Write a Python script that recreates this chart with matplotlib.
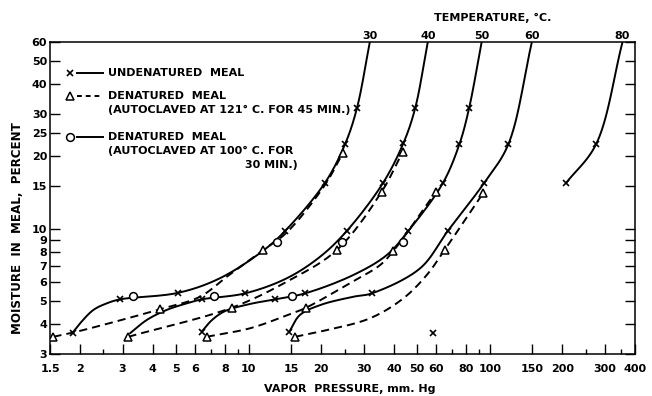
import numpy as np
import matplotlib
matplotlib.use("Agg")
import matplotlib.pyplot as plt
from matplotlib.ticker import FixedLocator, FixedFormatter, NullFormatter

# ---------------------------------------------------------------- data
# Temperatures of the isotherms and the saturated vapour pressure of water
# at each (mm Hg); every isotherm runs up to 60 % moisture at that pressure.
TEMPS_C = [30, 40, 50, 60, 80]
P_SAT = [31.8, 55.3, 92.5, 149.4, 355.1]
M_TOP = 60.0

# Undenatured meal: vapour pressure (mm Hg) / moisture (%) along each isotherm.
# MARK = 1 for an observed point (drawn with "x"), 0 for a point on the drawn curve.
UND_30_P = [1.86, 2.00, 2.27, 2.58, 2.93, 5.11, 7.60, 11.5, 14.15, 20.7, 25.1, 28.1]
UND_30_M = [3.68, 4.03, 4.58, 4.88, 5.07, 5.40, 6.21, 8.10, 9.77, 15.5, 22.5, 31.7]
UND_30_MARK = [1, 0, 0, 0, 1, 1, 0, 0, 1, 1, 1, 1]

UND_40_P = [3.22, 3.78, 4.57, 5.54, 6.39, 9.66, 14.4, 19.8, 25.5, 36.0, 43.8, 49.0]
UND_40_M = [3.66, 4.16, 4.58, 4.88, 5.07, 5.37, 6.21, 7.64, 9.77, 15.45, 22.7, 31.7]
UND_40_MARK = [0, 0, 0, 0, 1, 1, 0, 0, 1, 1, 1, 1]

UND_50_P = [6.39, 7.05, 7.98, 10.13, 12.86, 17.13, 27.2, 37.4, 45.9, 63.8, 74.8, 82.0]
UND_50_M = [3.72, 4.16, 4.53, 4.85, 5.07, 5.37, 6.41, 7.76, 9.77, 15.45, 22.5, 31.7]
UND_50_MARK = [1, 0, 0, 0, 1, 1, 0, 0, 1, 1, 1, 1]

UND_60_P = [14.7, 16.3, 19.8, 27.2, 32.4, 51.4, 66.9, 94.7, 119.4]
UND_60_M = [3.70, 4.36, 4.80, 5.20, 5.37, 6.83, 9.77, 15.5, 22.5]
UND_60_MARK = [1, 0, 0, 0, 1, 0, 1, 1, 1]

UND_80_P = [207.2, 275.9]
UND_80_M = [15.5, 22.5]
UND_80_MARK = [1, 1]

# lone undenatured observation at 80 deg C
UND_80_LOW_P = [58.3]
UND_80_LOW_M = [3.66]

# Denatured meal, autoclaved at 121 deg C for 45 min (dashed, triangles)
D121_30_P = [1.55, 1.86, 4.29, 6.28, 8.2, 11.5, 14.4, 20.7, 24.6]
D121_30_M = [3.54, 3.68, 4.61, 5.20, 6.35, 8.14, 9.65, 15.2, 20.7]
D121_30_MARK = [1, 0, 1, 0, 0, 1, 0, 0, 1]

D121_40_P = [3.17, 8.51, 14.4, 23.2, 35.6, 43.5]
D121_40_M = [3.54, 4.68, 6.01, 8.14, 14.25, 20.9]
D121_40_MARK = [1, 1, 0, 1, 1, 1]

D121_50_P = [6.70, 10.13, 13.9, 17.3, 26.3, 35.1, 39.8, 59.8]
D121_50_M = [3.54, 3.84, 4.29, 4.68, 5.93, 7.05, 8.07, 14.25]
D121_50_MARK = [1, 0, 0, 1, 0, 0, 1, 1]

D121_60_P = [15.6, 19.8, 31.9, 43.8, 54.8, 64.9, 94.0]
D121_60_M = [3.54, 3.72, 4.23, 5.12, 6.41, 8.14, 14.1]
D121_60_MARK = [1, 0, 0, 0, 0, 1, 1]

# Denatured meal, autoclaved at 100 deg C for 30 min (circles, on the solid curves)
D100_30_P = [3.32, 13.07]
D100_30_M = [5.24, 8.77]
D100_40_P = [7.18, 24.3]
D100_40_M = [5.24, 8.77]
D100_50_P = [15.1, 43.6]
D100_50_M = [5.25, 8.77]

X_TICKS = [1.5, 2, 3, 4, 5, 6, 8, 10, 15, 20, 30, 40, 50, 60, 80, 100, 150, 200, 300, 400]
X_TICK_LABELS = ["1.5", "2", "3", "4", "5", "6", "8", "10", "15", "20", "30", "40",
                 "50", "60", "80", "100", "150", "200", "300", "400"]
X_MINOR = [2.5, 7, 9, 25, 70, 90, 250, 350]
Y_TICKS = [3, 4, 5, 6, 7, 8, 9, 10, 15, 20, 25, 30, 40, 50, 60]
Y_TICK_LABELS = [str(v) for v in Y_TICKS]

# ---------------------------------------------------------------- helpers
def smooth_path(px, py, n=30):
    """Centripetal Catmull-Rom curve through the points, in log-log space."""
    P = np.column_stack([np.log10(px), np.log10(py)])
    if len(P) < 3:
        return 10 ** P[:, 0], 10 ** P[:, 1]
    P = np.vstack([2 * P[0] - P[1], P, 2 * P[-1] - P[-2]])
    parts = []
    for i in range(len(P) - 3):
        p0, p1, p2, p3 = P[i], P[i + 1], P[i + 2], P[i + 3]
        t0 = 0.0
        t1 = t0 + np.linalg.norm(p1 - p0) ** 0.5
        t2 = t1 + np.linalg.norm(p2 - p1) ** 0.5
        t3 = t2 + np.linalg.norm(p3 - p2) ** 0.5
        t = np.linspace(t1, t2, n)[:, None]
        a1 = (t1 - t) / (t1 - t0) * p0 + (t - t0) / (t1 - t0) * p1
        a2 = (t2 - t) / (t2 - t1) * p1 + (t - t1) / (t2 - t1) * p2
        a3 = (t3 - t) / (t3 - t2) * p2 + (t - t2) / (t3 - t2) * p3
        b1 = (t2 - t) / (t2 - t0) * a1 + (t - t0) / (t2 - t0) * a2
        b2 = (t3 - t) / (t3 - t1) * a2 + (t - t1) / (t3 - t1) * a3
        c = (t2 - t) / (t2 - t1) * b1 + (t - t1) / (t2 - t1) * b2
        parts.append(c if i == 0 else c[1:])
    C = np.vstack(parts)
    return 10 ** C[:, 0], 10 ** C[:, 1]


LW = 1.4
X_STYLE = dict(marker="x", ms=4.2, mew=1.2, color="black", ls="none", zorder=5)
TRI_STYLE = dict(marker="^", ms=6.0, mew=1.1, mfc="white", mec="black", ls="none", zorder=5)
CIR_STYLE = dict(marker="o", ms=5.6, mew=1.1, mfc="white", mec="black", ls="none", zorder=5)
DASHES = (4.2, 2.6)

plt.rcParams["font.family"] = ["DejaVu Sans"]
plt.rcParams["font.weight"] = "bold"

fig = plt.figure(figsize=(6.52, 3.96), dpi=100)
ax = fig.add_axes([50 / 652, 1 - 354 / 396, 585 / 652, 312 / 396])
ax.set_xscale("log")
ax.set_yscale("log")
ax.set_xlim(1.5, 400)
ax.set_ylim(3, 60)

# undenatured isotherms (solid), ending at saturation
und = [
    (UND_30_P, UND_30_M, UND_30_MARK, P_SAT[0]),
    (UND_40_P, UND_40_M, UND_40_MARK, P_SAT[1]),
    (UND_50_P, UND_50_M, UND_50_MARK, P_SAT[2]),
    (UND_60_P, UND_60_M, UND_60_MARK, P_SAT[3]),
    (UND_80_P, UND_80_M, UND_80_MARK, P_SAT[4]),
]
for p, m, mk, ps in und:
    cx, cy = smooth_path(list(p) + [ps], list(m) + [M_TOP])
    ax.plot(cx, cy, color="black", lw=LW, solid_capstyle="round", zorder=3)
    sel = np.array(mk, dtype=bool)
    ax.plot(np.array(p)[sel], np.array(m)[sel], **X_STYLE)
ax.plot(UND_80_LOW_P, UND_80_LOW_M, **X_STYLE)

# denatured at 121 C (dashed)
d121 = [
    (D121_30_P, D121_30_M, D121_30_MARK),
    (D121_40_P, D121_40_M, D121_40_MARK),
    (D121_50_P, D121_50_M, D121_50_MARK),
    (D121_60_P, D121_60_M, D121_60_MARK),
]
for p, m, mk in d121:
    cx, cy = smooth_path(p, m)
    ax.plot(cx, cy, color="black", lw=LW, ls=(0, DASHES), zorder=3)
    sel = np.array(mk, dtype=bool)
    ax.plot(np.array(p)[sel], np.array(m)[sel], **TRI_STYLE)

# denatured at 100 C (circles)
for p, m in [(D100_30_P, D100_30_M), (D100_40_P, D100_40_M), (D100_50_P, D100_50_M)]:
    ax.plot(p, m, **CIR_STYLE)

# ---------------------------------------------------------------- axes
for s in ax.spines.values():
    s.set_linewidth(1.1)

ax.xaxis.set_major_locator(FixedLocator(X_TICKS))
ax.xaxis.set_major_formatter(FixedFormatter(X_TICK_LABELS))
ax.xaxis.set_minor_locator(FixedLocator(X_MINOR))
ax.xaxis.set_minor_formatter(NullFormatter())
ax.yaxis.set_major_locator(FixedLocator(Y_TICKS))
ax.yaxis.set_major_formatter(FixedFormatter(Y_TICK_LABELS))
ax.yaxis.set_minor_locator(FixedLocator([]))
ax.yaxis.set_minor_formatter(NullFormatter())

ax.tick_params(axis="x", which="major", direction="in", length=7, width=1.0,
               labelsize=8, pad=7, top=False)
ax.tick_params(axis="x", which="minor", direction="in", length=3.5, width=1.0, top=False)
ax.tick_params(axis="y", which="major", direction="in", length=7, width=1.0,
               labelsize=8, pad=2, left=True, right=True)

# temperature scale along the top
top = ax.secondary_xaxis("top")
top.xaxis.set_major_locator(FixedLocator(P_SAT))
top.xaxis.set_major_formatter(FixedFormatter([str(t) for t in TEMPS_C]))
top.xaxis.set_minor_locator(FixedLocator([]))
top.tick_params(axis="x", which="both", length=0, labelsize=8, pad=1)
top.spines["top"].set_visible(False)

fig.text(493 / 652, 1 - 18 / 396, "TEMPERATURE, °C.", ha="center", va="center", fontsize=8)
fig.text(350 / 652, 1 - 389 / 396, "VAPOR  PRESSURE, mm. Hg", ha="center", va="center", fontsize=8)
fig.text(18 / 652, 1 - 228 / 396, "MOISTURE  IN  MEAL,  PERCENT", ha="center", va="center",
         rotation=90, fontsize=8.6)

# ---------------------------------------------------------------- key
tr = ax.transAxes
mx, l0, l1, tx = 0.0342, 0.0456, 0.0911, 0.0997
key_fs = 8
ax.plot([mx], [0.9016], transform=tr, **X_STYLE)
ax.plot([l0, l1], [0.9016, 0.9016], transform=tr, color="black", lw=LW)
ax.text(tx, 0.9016, "UNDENATURED  MEAL", transform=tr, va="center", fontsize=key_fs)

ax.plot([mx], [0.8269], transform=tr, **TRI_STYLE)
ax.plot([l0, l1], [0.8269, 0.8269], transform=tr, color="black", lw=LW, ls=(0, (2.5, 2.0)))
ax.text(tx, 0.8269, "DENATURED  MEAL", transform=tr, va="center", fontsize=key_fs)
ax.text(tx, 0.782, "(AUTOCLAVED AT 121° C. FOR 45 MIN.)", transform=tr, va="center",
        fontsize=key_fs)

ax.plot([mx], [0.6965], transform=tr, **CIR_STYLE)
ax.plot([l0, l1], [0.6965, 0.6965], transform=tr, color="black", lw=LW)
ax.text(tx, 0.6965, "DENATURED  MEAL", transform=tr, va="center", fontsize=key_fs)
ax.text(tx, 0.6516, "(AUTOCLAVED AT 100° C. FOR", transform=tr, va="center", fontsize=key_fs)
ax.text(0.424, 0.6058, "30 MIN.)", transform=tr, va="center", ha="right", fontsize=key_fs)

fig.savefig("out.png", dpi=100)
